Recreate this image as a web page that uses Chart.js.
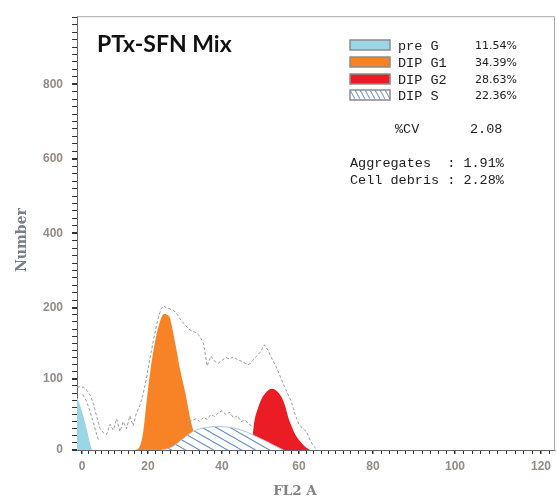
<!DOCTYPE html>
<html><head><meta charset="utf-8">
<style>html,body{margin:0;padding:0;background:#fff;}canvas{display:block;}</style>
<script src="https://cdn.jsdelivr.net/npm/chart.js@4.4.1/dist/chart.umd.min.js"></script>
</head><body>
<canvas id="c" width="557" height="500"></canvas>
<script>
// ---------- data ----------
const preG   = [[-1.5,74],[-0.5,62],[0.5,46],[1.5,28],[2.3,12],[3,0]];
const dipG1  = [[16,0],[17.1,2],[18,12],[18.6,27],[19.6,69],[20.5,106],[21.9,152],[23.2,180],[24.4,191],[25.2,190],[25.9,186],[27.3,152],[28.6,115],[30,83],[31.4,45],[32.2,28],[33,12],[33.5,0]];
const dipG2  = [[47.5,0],[48,22],[48.4,40],[49.3,58],[50.4,73],[51.6,82],[53,86],[54.2,83],[55.6,73],[56.5,60],[57.2,46],[58.1,33],[59,22],[60,14],[61,8],[62,3],[63,0]];
const dipS   = [[23.5,0],[25.5,2],[27,6],[28.5,12],[30,18],[31.5,24],[33,28],[35,31],[37,32.5],[39,33],[41,32.5],[43,31],[45,28],[47,24],[48.5,20],[50,16],[51.6,12],[53,8],[54.5,4],[56,0]];
const rawHist = [[-1.5,88],[-0.5,89],[0.5,88],[1.5,84],[2.5,77],[3.5,64],[4.5,46],[5.5,30],[6.5,24],[7.5,22],[8.5,36],[9.5,28],[10.5,44],[11.5,26],[12.5,40],[13.5,30],[14.5,48],[15.5,34],[16.5,52],[17.5,62],[18.5,78],[19.5,100],[20.5,128],[21.5,155],[22.5,180],[23.5,198],[24.2,205],[25,200],[26,198],[27,196],[28,190],[29,182],[30,176],[31,170],[32,167],[33,165],[34,160],[35,150],[36,118],[37,132],[38,125],[39,122],[40,126],[41,130],[42,128],[43,131],[44,127],[45,125],[46,122],[47,120],[48,126],[49,132],[50,138],[51,148],[52,140],[53,128],[54,118],[55,105],[56,92],[57,80],[58,68],[59,50],[60,36],[61,30],[62,26],[63,14],[64,5],[65,0]];
const fitLeft = [[0.2,78],[1.2,70],[2.2,58],[3.2,42],[4.2,26],[5,14]];
const fitMid  = [[30,35],[31,38],[32,42],[33,44],[34,40],[35,46],[36,43],[37,50],[38,47],[39,52],[40,55],[41,50],[42,53],[43,45],[44,48],[45,40],[46,42],[47,36],[48,33]];

const xLabelValues = [0,20,40,60,80,100,120];
const yLabelValues = [0,100,200,400,600,800];
const legendLabels   = ['pre G','DIP G1','DIP G2','DIP S'];
const legendPercents = ['11.54%','34.39%','28.63%','22.36%'];
const cvLabel = '%CV', cvValue = '2.08';
const statLines = ['Aggregates  : 1.91%','Cell debris : 2.28%'];
const chartTitle = 'PTx-SFN Mix';
const xTitle = 'FL2 A', yTitle = 'Number';

// tick marks (minor + major)
const xTickValues = []; for (let v = 0; v <= 122; v += 2) xTickValues.push(v);
const yTickValues = []; for (let v = 0; v <= 200; v += 10) yTickValues.push(v);
for (let v = 220; v <= 980; v += 20) yTickValues.push(v);

// ---------- piecewise-linear scale (axis of the original is not uniform) ----------
const scaleBreaks = {
  x: [[-1.5,0],[0,0.01046],[20,0.1485],[40,0.3033],[60,0.4644],[80,0.6192],[100,0.7908],[120,0.9707],[123.3,1]],
  y: [[0,0],[200,0.328],[800,0.843],[983,1]]
};
const scaleTicks = { x: xTickValues, y: yTickValues };
class PiecewiseScale extends Chart.LinearScale {
  buildTicks() { return scaleTicks[this.id].map(v => ({ value: v })); }
  _toDec(v) {
    const b = scaleBreaks[this.id];
    let i = 0;
    while (i < b.length - 2 && v > b[i + 1][0]) i++;
    const [v0, d0] = b[i], [v1, d1] = b[i + 1];
    return d0 + (v - v0) * (d1 - d0) / (v1 - v0);
  }
  _fromDec(d) {
    const b = scaleBreaks[this.id];
    let i = 0;
    while (i < b.length - 2 && d > b[i + 1][1]) i++;
    const [v0, d0] = b[i], [v1, d1] = b[i + 1];
    return v0 + (d - d0) * (v1 - v0) / (d1 - d0);
  }
  getPixelForValue(v) { return this.getPixelForDecimal(this._toDec(v)); }
  getValueForPixel(p) { return this._fromDec(this.getDecimalForPixel(p)); }
}
PiecewiseScale.id = 'piecewise';
Chart.register(PiecewiseScale);

// ---------- hatch pattern ----------
function makeHatch(w, h, color) {
  const c = document.createElement('canvas'); c.width = w; c.height = h;
  const g = c.getContext('2d');
  g.fillStyle = '#ffffff'; g.fillRect(0, 0, w, h);
  g.strokeStyle = color; g.lineWidth = 1.1;
  for (const off of [-h, 0, h]) { g.beginPath(); g.moveTo(0, off); g.lineTo(w, off + h); g.stroke(); }
  return g.createPattern(c, 'repeat');
}
const hatch = makeHatch(14, 8, '#6d93c9');
const hatchSwatch = makeHatch(5, 9, '#7d9fcf');

const COLORS = { preG: '#9bd6e6', g1: '#f88326', g2: '#ec1c24' };

const pts = a => a.map(p => ({ x: p[0], y: p[1] }));
const area = (data, bg, order, extra) => Object.assign({
  data: pts(data), showLine: true, fill: 'origin', backgroundColor: bg, borderColor: bg,
  borderWidth: 0, pointRadius: 0, cubicInterpolationMode: 'monotone', order
}, extra || {});
const dashed = (data, order) => ({
  data: pts(data), showLine: true, fill: false, borderColor: '#9c9c9c', borderWidth: 1,
  borderDash: [3, 2], pointRadius: 0, tension: 0, order
});

const tickColor = '#958b86';
const tickFont = { family: 'Liberation Sans', size: 12, weight: 'bold' };

const overlay = {
  id: 'overlay',
  beforeDraw(chart) {
    const c = chart.ctx; c.save(); c.fillStyle = '#fff'; c.fillRect(0, 0, chart.width, chart.height); c.restore();
  },
  afterDraw(chart) {
    const c = chart.ctx, a = chart.chartArea;
    c.save();
    // frame top/right
    c.strokeStyle = '#a8a8a8'; c.lineWidth = 1;
    c.beginPath(); c.moveTo(a.left, a.top + 0.5); c.lineTo(a.right - 0.5, a.top + 0.5); c.lineTo(a.right - 0.5, a.bottom); c.stroke();
    // title
    c.fillStyle = '#111'; c.font = 'bold 23px Lato'; c.textBaseline = 'alphabetic'; c.textAlign = 'left';
    c.fillText(chartTitle, 97, 52);
    // legend
    const sw = [COLORS.preG, COLORS.g1, COLORS.g2, hatchSwatch];
    const rows = [45, 62, 79, 95];
    for (let i = 0; i < 4; i++) {
      const y = rows[i];
      c.fillStyle = sw[i]; c.fillRect(350, y - 5, 40, 10);
      c.strokeStyle = '#8c8c8c'; c.lineWidth = 1.5; c.strokeRect(350, y - 5, 40, 10);
      c.fillStyle = '#222'; c.textBaseline = 'middle';
      c.font = '13.5px "Liberation Mono"'; c.textAlign = 'left';
      c.fillText(legendLabels[i], 398, y + 1);
      c.font = '11px "DejaVu Sans"'; c.textAlign = 'right';
      c.fillText(legendPercents[i], 517, y + 1);
    }
    c.font = '13.5px "Liberation Mono"'; c.textAlign = 'left';
    c.fillText(cvLabel, 395, 129);
    c.fillText(cvValue, 470, 129);
    c.fillText(statLines[0], 350, 163);
    c.fillText(statLines[1], 350, 180);
    // axis titles
    c.fillStyle = '#7a808a'; c.font = 'bold 14px "DejaVu Serif"'; c.textAlign = 'center';
    c.translate(22, 240); c.rotate(-Math.PI / 2); c.fillText(yTitle, 0, 0);
    c.setTransform(1, 0, 0, 1, 0, 0);
    c.fillStyle = '#838383'; c.font = 'bold 13.5px "DejaVu Serif"';
    c.fillText(xTitle, 295, 491);
    c.restore();
  }
};

new Chart(document.getElementById('c'), {
  type: 'scatter',
  data: { datasets: [
    dashed(rawHist, 0),
    dashed(fitLeft, 1),
    dashed(fitMid, 1),
    area(dipS, hatch, 2, { borderColor: '#b3c2da', borderWidth: 1 }),
    area(preG, COLORS.preG, 3),
    area(dipG1, COLORS.g1, 4),
    area(dipG2, COLORS.g2, 5)
  ]},
  options: {
    responsive: false, animation: false, devicePixelRatio: 1,
    layout: { padding: { top: 11, right: 2, left: 0, bottom: 0 } },
    plugins: { legend: { display: false }, tooltip: { enabled: false } },
    scales: {
      x: {
        type: 'piecewise', min: -1.5, max: 123.3,
        afterFit: s => { s.height = 50; },
        border: { display: true, color: '#666', width: 1 },
        grid: { drawOnChartArea: false, drawTicks: true, tickLength: 4, color: '#333',
                lineWidth: ctx => (ctx.tick && xLabelValues.includes(ctx.tick.value)) ? 1.5 : 1 },
        ticks: { autoSkip: false, maxRotation: 0, padding: 5, color: tickColor, font: tickFont,
                 callback: v => xLabelValues.includes(v) ? String(v) : '' }
      },
      y: {
        type: 'piecewise', min: 0, max: 983,
        afterFit: s => { s.width = 77; },
        border: { display: true, color: '#666', width: 1 },
        grid: { drawOnChartArea: false, drawTicks: true, tickLength: 5, color: '#333',
                lineWidth: ctx => (ctx.tick && yLabelValues.includes(ctx.tick.value)) ? 2 : 1 },
        ticks: { autoSkip: false, padding: 9, color: tickColor, font: tickFont,
                 callback: v => yLabelValues.includes(v) ? String(v) : '' }
      }
    }
  },
  plugins: [overlay]
});
</script>
</body></html>
